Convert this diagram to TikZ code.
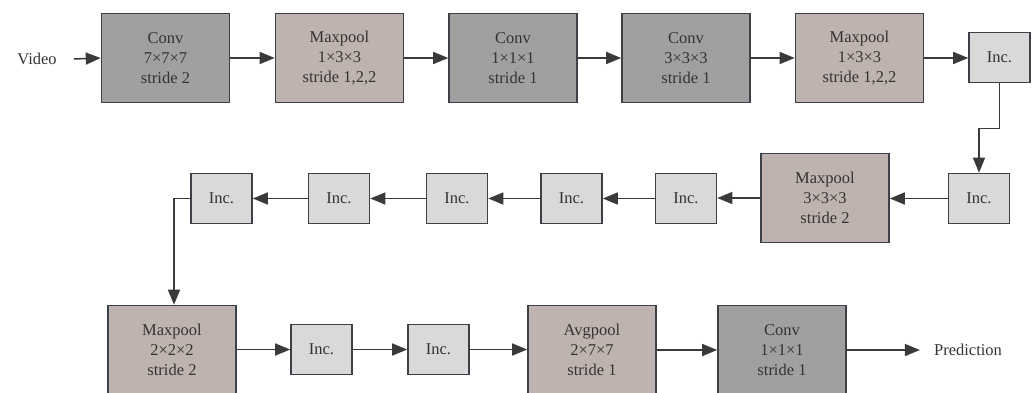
\documentclass[tikz,border=0pt]{standalone}
\usepackage{fontspec}
\setmainfont{Liberation Serif}
\newfontfamily\diagfont{Liberation Serif}
\usetikzlibrary{arrows.meta}
\definecolor{convcol}{HTML}{A0A0A0}
\definecolor{poolcol}{HTML}{BEB3AE}
\definecolor{inccol}{HTML}{D9D9D9}
\definecolor{bordercol}{HTML}{3C4147}
\definecolor{linecol}{HTML}{3A3A3A}
\definecolor{textcol}{HTML}{333333}
\tikzset{
  box/.style={draw=bordercol, line width=1.6pt, text=textcol, align=center, inner sep=0pt,
    font=\diagfont\fontsize{16.5}{20}\selectfont},
  bigbox/.style={box, minimum width=128pt, minimum height=89pt},
  convbox/.style={bigbox, fill=convcol},
  poolbox/.style={bigbox, fill=poolcol},
  incbox/.style={box, fill=inccol, minimum width=61pt, minimum height=50pt},
  lbl/.style={text=textcol, inner sep=0pt, font=\diagfont\fontsize{16.5}{20}\selectfont},
  arr/.style={draw=linecol, line width=1.5pt, -{Triangle[length=15pt,width=12pt]}}
}
\begin{document}
\begin{tikzpicture}[x=1pt,y=-1pt]
\useasboundingbox (0,0) rectangle (1035,392);
% row 1
\node[lbl] (video) at (37,59) {Video};
\node[convbox] (c1) at (165.5,58) {Conv\\7×7×7\\stride 2};
\node[poolbox] (m1) at (339.5,58) {Maxpool\\1×3×3\\stride 1,2,2};
\node[convbox] (c2) at (513,58) {Conv\\1×1×1\\stride 1};
\node[convbox] (c3) at (686,58) {Conv\\3×3×3\\stride 1};
\node[poolbox] (m2) at (859.5,58) {Maxpool\\1×3×3\\stride 1,2,2};
\node[incbox] (i1) at (999.5,57.5) {Inc.};
% row 2
\node[incbox] (i2) at (979,198.5) {Inc.};
\node[poolbox] (m3) at (825,198) {Maxpool\\3×3×3\\stride 2};
\node[incbox] (i3) at (686,198.5) {Inc.};
\node[incbox] (i4) at (571.5,198.5) {Inc.};
\node[incbox] (i5) at (457,198.5) {Inc.};
\node[incbox] (i6) at (339,198.5) {Inc.};
\node[incbox] (i7) at (221.5,198.5) {Inc.};
% row 3
\node[poolbox] (m4) at (172,350) {Maxpool\\2×2×2\\stride 2};
\node[incbox] (i8) at (321.5,349.5) {Inc.};
\node[incbox] (i9) at (438.5,349.5) {Inc.};
\node[poolbox] (avg) at (592,350) {Avgpool\\2×7×7\\stride 1};
\node[convbox] (c4) at (782,350) {Conv\\1×1×1\\stride 1};
\node[lbl] (pred) at (968,350) {Prediction};
% connectors
\draw[arr] ([xshift=17pt]video.east) -- (c1.west);
\draw[arr] (c1.east) -- (m1.west);
\draw[arr] (m1.east) -- (c2.west);
\draw[arr] (c2.east) -- (c3.west);
\draw[arr] (c3.east) -- (m2.west);
\draw[arr] (m2.east) -- (m2.east -| i1.west);
\draw[arr] (i1.south) -- ++(0,45) -| (i2.north);
\draw[arr] (i2.west) -- (i2.west -| m3.east);
\draw[arr] (m3.west) -- (m3.west -| i3.east);
\draw[arr] (i3.west) -- (i4.east);
\draw[arr] (i4.west) -- (i5.east);
\draw[arr] (i5.west) -- (i6.east);
\draw[arr] (i6.west) -- (i7.east);
\draw[arr] (i7.west) -| ([xshift=2pt]m4.north);
\draw[arr] (m4.east |- i8.west) -- (i8.west);
\draw[arr] (i8.east) -- (i9.west);
\draw[arr] (i9.east) -- (i9.east -| avg.west);
\draw[arr] (avg.east) -- (c4.west);
\draw[arr] (c4.east) -- ([xshift=-14pt]pred.west);
\end{tikzpicture}
\end{document}
